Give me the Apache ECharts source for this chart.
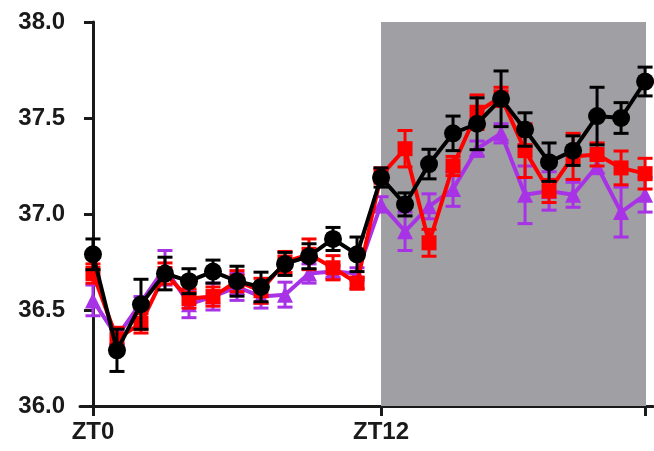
<!DOCTYPE html>
<html>
<head>
<meta charset="utf-8">
<script src="https://cdn.jsdelivr.net/npm/echarts@6/dist/echarts.min.js"></script>
<style>html,body{margin:0;padding:0;background:#fff}#c{width:654px;height:451px}</style>
</head>
<body>
<div id="c"></div>
<script>
const hours = [0,1,2,3,4,5,6,7,8,9,10,11,12,13,14,15,16,17,18,19,20,21,22,23];
const tickLabels = ['ZT0','ZT12'];
const blackMean = [36.79,36.29,36.53,36.69,36.65,36.70,36.65,36.62,36.74,36.78,36.87,36.79,37.19,37.05,37.26,37.42,37.47,37.60,37.44,37.27,37.33,37.51,37.50,37.69];
const blackErr  = [0.08,0.11,0.13,0.085,0.065,0.06,0.078,0.077,0.06,0.065,0.06,0.09,0.05,0.06,0.077,0.09,0.135,0.145,0.087,0.10,0.077,0.15,0.08,0.075];
const redMean = [36.69,36.35,36.43,36.69,36.56,36.57,36.65,36.60,36.75,36.79,36.72,36.64,37.20,37.34,36.85,37.25,37.53,37.61,37.33,37.12,37.30,37.31,37.24,37.21];
const redErr  = [0.05,0.06,0.05,0.055,0.05,0.05,0.055,0.065,0.055,0.08,0.063,0.03,0.04,0.095,0.07,0.05,0.09,0.05,0.14,0.06,0.12,0.06,0.088,0.08];
const purpleMean = [36.55,36.36,36.54,36.72,36.53,36.57,36.62,36.57,36.58,36.69,36.70,36.69,37.05,36.91,37.04,37.13,37.34,37.42,37.10,37.12,37.10,37.25,37.01,37.10];
const purpleErr  = [0.08,0.04,0.03,0.09,0.07,0.07,0.07,0.06,0.065,0.05,0.03,0.03,0.04,0.10,0.065,0.09,0.04,0.05,0.15,0.10,0.065,0.04,0.13,0.09];
const nightStart = 12, nightEnd = 23.04;

const BLACK = '#000000', RED = '#ff0000', PURPLE = '#a833e6';

function errSeries(mean, err, color, z) {
  return {
    type: 'custom', z: z, silent: true,
    data: hours.map((h, i) => [h, mean[i] - err[i], mean[i] + err[i]]),
    renderItem: function (params, api) {
      const x = api.value(0);
      const lo = api.coord([x, api.value(1)]);
      const hi = api.coord([x, api.value(2)]);
      const hw = 7.5;
      const st = { stroke: color, lineWidth: 3 };
      return { type: 'group', children: [
        { type: 'line', shape: { x1: lo[0], y1: lo[1], x2: hi[0], y2: hi[1] }, style: st },
        { type: 'line', shape: { x1: lo[0]-hw, y1: lo[1], x2: lo[0]+hw, y2: lo[1] }, style: st },
        { type: 'line', shape: { x1: hi[0]-hw, y1: hi[1], x2: hi[0]+hw, y2: hi[1] }, style: st }
      ]};
    }
  };
}
function lineSeries(mean, color, symbol, size, z) {
  return {
    type: 'line', z: z, silent: true,
    data: hours.map((h, i) => [h, mean[i]]),
    symbol: symbol, symbolSize: size,
    itemStyle: { color: color },
    lineStyle: { color: color, width: 4 },
    animation: false
  };
}

const chart = echarts.init(document.getElementById('c'));
const font = 'Liberation Sans, Arial, sans-serif';
chart.setOption({
  animation: false,
  grid: { left: 80, right: 1, top: 22, bottom: 45 },
  xAxis: {
    type: 'value', min: -0.54, max: 23.33,
    axisLine: { show: true, lineStyle: { color: '#1a1a1a', width: 3 } },
    axisTick: { show: true, length: 10, lineStyle: { color: '#1a1a1a', width: 3 }, customValues: [0, 12, 23] },
    axisLabel: { customValues: [0, 12], margin: 14, color: '#1a1a1a', fontSize: 24, fontWeight: 'bold', fontFamily: font,
      formatter: v => tickLabels[Math.round(v) === 0 ? 0 : 1] },
    splitLine: { show: false }
  },
  yAxis: {
    type: 'value', min: 36, max: 38, interval: 0.5,
    axisLine: { show: true, lineStyle: { color: '#1a1a1a', width: 3 } },
    axisTick: { show: true, length: 9, lineStyle: { color: '#1a1a1a', width: 3 } },
    axisLabel: { margin: 15, color: '#1a1a1a', fontSize: 24, fontWeight: 'bold', fontFamily: font,
      formatter: v => v.toFixed(1) },
    splitLine: { show: false }
  },
  series: [
    { type: 'line', data: [], z: 0, silent: true,
      markArea: { silent: true, itemStyle: { color: '#a09fa4' },
        data: [[{ xAxis: nightStart }, { xAxis: nightEnd }]] } },
    errSeries(purpleMean, purpleErr, PURPLE, 2),
    lineSeries(purpleMean, PURPLE, 'triangle', 16, 3),
    errSeries(redMean, redErr, RED, 4),
    lineSeries(redMean, RED, 'rect', 15, 5),
    errSeries(blackMean, blackErr, BLACK, 6),
    lineSeries(blackMean, BLACK, 'circle', 18, 7)
  ]
});
</script>
</body>
</html>
